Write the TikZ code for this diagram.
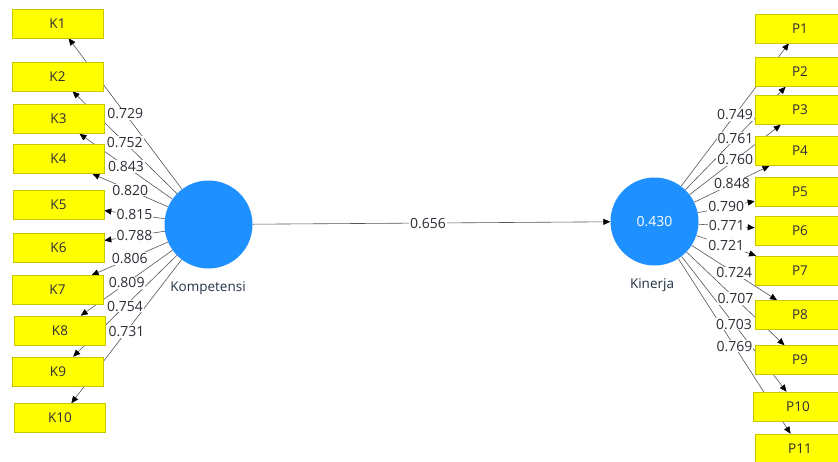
\documentclass[tikz,border=0pt]{standalone}
\usepackage{fontspec}
\setmainfont{Open Sans}
\usetikzlibrary{arrows.meta}
\definecolor{indfill}{RGB}{255,255,0}
\definecolor{inddraw}{RGB}{200,200,0}
\definecolor{lvfill}{RGB}{30,144,255}
\definecolor{lncol}{RGB}{85,85,85}
\definecolor{txcol}{RGB}{45,45,55}
\definecolor{namecol}{RGB}{35,50,70}
\pgfdeclarelayer{lines}
\pgfdeclarelayer{labs}
\pgfsetlayers{lines,labs,main}
\begin{document}
\begin{tikzpicture}[x=1pt,y=-1pt,
  indbox/.style={draw=inddraw, fill=indfill, line width=0.6pt, minimum width=91pt, minimum height=29pt, inner sep=0pt, font=\fontsize{13.5}{15}\selectfont, text=txcol},
  latvar/.style={circle, fill=lvfill, minimum size=88pt, inner sep=0pt, font=\fontsize{14}{16}\selectfont, text=white},
  conn/.style={draw=lncol, line width=0.6pt, -{Triangle[length=7pt,width=6pt,color=black]}},
  lab/.style={fill=white, inner sep=1pt, font=\fontsize{14}{16}\selectfont, text=txcol},
  lvname/.style={font=\fontsize{13.5}{15}\selectfont, text=namecol, inner sep=0pt}]
\useasboundingbox (0,0) rectangle (838,461);
\clip (0,0) rectangle (838,461);
% latent variables
\node[latvar] (komp) at (208.5,224.5) {};
\node[latvar] (kin) at (654.5,221.5) {0.430};
\node[lvname] (kompname) at (208,288) {Kompetensi};
\node[lvname] (kinname) at (652,285) {Kinerja};
% K indicators
\node[indbox] (k1) at (57.5,23.5) {K1};
\node[indbox] (k2) at (57.5,76.5) {K2};
\node[indbox] (k3) at (58.5,119) {K3};
\node[indbox] (k4) at (58.5,159) {K4};
\node[indbox] (k5) at (58.5,204.5) {K5};
\node[indbox] (k6) at (58.5,247.5) {K6};
\node[indbox] (k7) at (57.5,290) {K7};
\node[indbox] (k8) at (60,330.5) {K8};
\node[indbox] (k9) at (58,371.5) {K9};
\node[indbox] (k10) at (60,418) {K10};
% P indicators
\node[indbox, minimum width=90pt] (p1) at (800,28.5) {P1};
\node[indbox, minimum width=90pt] (p2) at (800,72) {P2};
\node[indbox, minimum width=90pt] (p3) at (800,110) {P3};
\node[indbox, minimum width=90pt] (p4) at (800,151) {P4};
\node[indbox, minimum width=90pt] (p5) at (800,192) {P5};
\node[indbox, minimum width=90pt] (p6) at (800,230.5) {P6};
\node[indbox, minimum width=90pt] (p7) at (800,270.5) {P7};
\node[indbox, minimum width=90pt] (p8) at (800,315) {P8};
\node[indbox, minimum width=90pt] (p9) at (800,360) {P9};
\node[indbox, minimum width=90pt] (p10) at (798,406.5) {P10};
\node[indbox, minimum width=90pt] (p11) at (800,448.5) {P11};
% connectors
\begin{pgfonlayer}{lines}
\foreach \t in {k1,k2,k3,k4,k5,k6,k7,k8,k9,k10}{\draw[conn] (komp) -- (\t);}
\foreach \t in {p1,p2,p3,p4,p5,p6,p7,p8,p9,p10,p11}{\draw[conn] (kin) -- (\t);}
\draw[conn] (komp) -- (kin);
\end{pgfonlayer}
\begin{pgfonlayer}{labs}
\foreach \t/\v in {k1/0.729,k2/0.752,k3/0.843,k4/0.820,k5/0.815,k6/0.788,k7/0.806,k8/0.809,k9/0.754,k10/0.731}{\path (komp) -- node[lab]{\v} (\t);}
\foreach \t/\v in {p1/0.749,p2/0.761,p3/0.760,p4/0.848,p5/0.790,p6/0.771,p7/0.721,p8/0.724,p9/0.707,p10/0.703,p11/0.769}{\path (kin) -- node[lab]{\v} (\t);}
\path (komp) -- node[lab, pos=0.49]{0.656} (kin);
\end{pgfonlayer}
\end{tikzpicture}
\end{document}
